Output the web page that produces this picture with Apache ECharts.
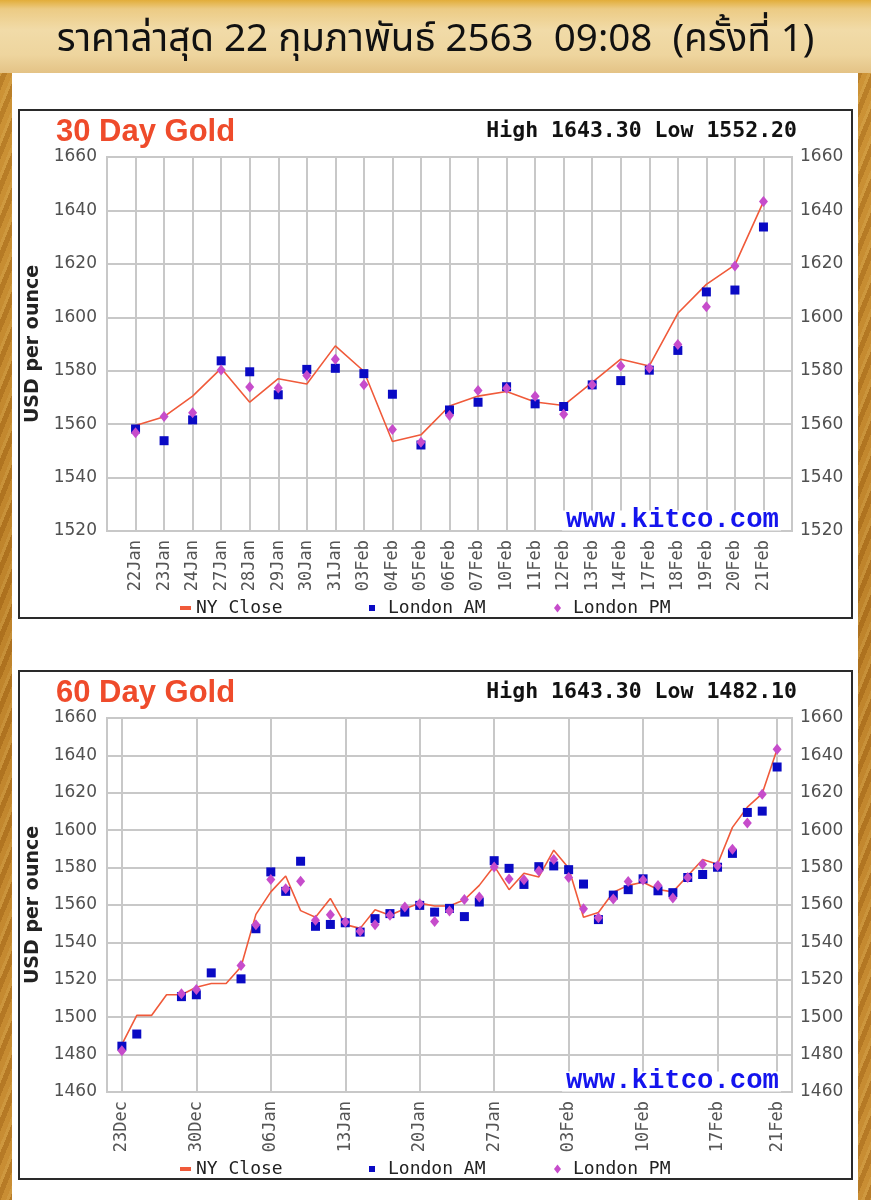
<!DOCTYPE html>
<html><head><meta charset="utf-8">
<script src="https://cdn.jsdelivr.net/npm/echarts/dist/echarts.min.js"></script>
<style>
html,body{margin:0;padding:0;}
body{width:871px;height:1200px;position:relative;overflow:hidden;
background:
 repeating-linear-gradient(112deg, rgba(255,225,140,0.20) 0 3px, rgba(110,55,5,0.14) 3px 8px, rgba(255,210,120,0.10) 8px 13px),
 linear-gradient(180deg,#c98e30,#b77a22 50%,#c3862c);}
#band{position:absolute;left:0;top:0;width:871px;height:73px;
background:linear-gradient(180deg,#e2ad3a 0px,#eccb84 9px,#f1dba8 30px,#eed59e 55px,#e4c386 73px);}
#panel{position:absolute;left:12px;top:73px;width:846px;height:1127px;background:#fff;}
#chart{position:absolute;left:0;top:0;width:871px;height:1200px;}
</style></head>
<body><div id="band"></div><div id="panel"></div><div id="chart"></div>
<script>
// ---------------- data ----------------
const pageTitle = 'ราคาล่าสุด 22 กุมภาพันธ์ 2563  09:08  (ครั้งที่ 1)';
const dates60 = ['23Dec','24Dec','25Dec','26Dec','27Dec','30Dec','31Dec','01Jan','02Jan','03Jan',
 '06Jan','07Jan','08Jan','09Jan','10Jan','13Jan','14Jan','15Jan','16Jan','17Jan',
 '20Jan','21Jan','22Jan','23Jan','24Jan','27Jan','28Jan','29Jan','30Jan','31Jan',
 '03Feb','04Feb','05Feb','06Feb','07Feb','10Feb','11Feb','12Feb','13Feb','14Feb',
 '17Feb','18Feb','19Feb','20Feb','21Feb'];
const nyClose60 = [1485.5,1501,1501,1512,1512,1516,1518,1518,1527,1555,
 1567,1575.5,1557,1553.5,1563.5,1549.5,1547.5,1557.5,1554.5,1558,
 1561,1559.5,1559.5,1562.8,1570.5,1580.9,1568.2,1577,1575,1589.3,
 1579.8,1553.5,1556,1566.8,1570.5,1572.2,1568.3,1567,1575.6,1584.3,
 1581.8,1601.5,1612.3,1619.6,1643.3];
const londonAM60 = [1484.5,1491,null,null,1511,1512,1523.7,null,1520.5,1547.3,
 1577.7,1567.3,1583.4,1548.6,1549.6,1550.5,1545.5,1552.7,1555.4,1556.2,
 1559.8,1556.2,1558.2,1553.8,1561.6,1583.7,1579.6,1571,1580.5,1580.9,
 1578.9,1571.2,1552.2,1565.3,1568.2,1574,1567.6,1566.6,1574.7,1576.3,
 1580.2,1587.6,1609.5,1610.2,1633.8];
const londonPM60 = [1482.1,null,null,null,1512.5,1514.8,null,null,1527.7,1549.5,
 1573.6,1568.7,1572.7,1551.8,1554.8,1550.9,1545.9,1549.5,1554.5,1558.9,
 1560.7,1551.2,1556.8,1562.9,1564.3,1580.3,1573.9,1573.5,1578.2,1584.3,
 1574.7,1558,1553.2,1563.2,1572.6,1573.4,1570.4,1563.7,1574.7,1581.8,
 1581,1589.8,1603.9,1619.2,1643.3];
const start30 = 22; // 30-day chart starts at 22Jan
const dateLabels60 = ['23Dec','30Dec','06Jan','13Jan','20Jan','27Jan','03Feb','10Feb','17Feb','21Feb'];
const yRange30 = [1520, 1660];
const yRange60 = [1460, 1660];
const yStep = 20;
const headline30 = ['30 Day Gold', 'High 1643.30 Low 1552.20'];
const headline60 = ['60 Day Gold', 'High 1643.30 Low 1482.10'];
const seriesNames = ['NY Close', 'London AM', 'London PM'];
const axisName = 'USD per ounce';
const watermark = 'www.kitco.com';

// ---------------- build ----------------
const C_LINE = '#f05a3a', C_AM = '#0a0ac4', C_PM = '#c64ccb', C_GRID = '#c8c8c8';
const MONO = '"DejaVu Sans Mono", monospace';
const SANS = '"DejaVu Sans", sans-serif';
const pad = a => ['-'].concat(a.map(v => v == null ? '-' : v), ['-']);

const grids = [], xAxes = [], yAxes = [], series = [], legends = [], graphics = [];

function addPanel(idx, cfg) {
  const top = cfg.top;
  const cats = [''].concat(cfg.dates, ['']);
  const shown = cfg.labels;
  const intervalFn = shown ? ((i, v) => shown.indexOf(v) >= 0) : 0;
  grids.push({left: 107, right: 79, top: top, height: 374, show: true,
    borderColor: C_GRID, borderWidth: 2, backgroundColor: 'transparent',
    containLabel: false, outerBoundsMode: 'none'});
  xAxes.push({type: 'category', gridIndex: idx, data: cats, boundaryGap: false,
    axisLine: {show: false}, axisTick: {show: false},
    axisLabel: {rotate: 90, margin: 9, fontFamily: MONO, fontSize: 17, color: '#555', interval: intervalFn},
    splitLine: {show: true, interval: intervalFn, lineStyle: {color: C_GRID, width: 2}}});
  const yBase = {type: 'value', gridIndex: idx, min: cfg.yRange[0], max: cfg.yRange[1], interval: yStep,
    axisLine: {show: false}, axisTick: {show: false}};
  const yLab = {fontFamily: SANS, fontSize: 17, color: '#505050', formatter: v => String(v)};
  yAxes.push(Object.assign({}, yBase, {position: 'left',
    axisLabel: Object.assign({margin: 10}, yLab),
    splitLine: {show: true, lineStyle: {color: C_GRID, width: 2}},
    name: axisName, nameLocation: 'middle', nameRotate: 90, nameGap: 51,
    nameTextStyle: {fontFamily: SANS, fontWeight: 'bold', fontSize: 19, color: '#222'}}));
  yAxes.push(Object.assign({}, yBase, {position: 'right',
    axisLabel: Object.assign({margin: 8}, yLab),
    splitLine: {show: false}}));
  series.push({name: seriesNames[0], type: 'line', xAxisIndex: idx, yAxisIndex: idx * 2,
    data: pad(cfg.ny), showSymbol: false, symbol: 'none', z: 2,
    lineStyle: {color: C_LINE, width: 1.6}, itemStyle: {color: C_LINE}});
  series.push({name: seriesNames[1], type: 'scatter', xAxisIndex: idx, yAxisIndex: idx * 2,
    data: pad(cfg.am), symbol: 'rect', symbolSize: 9, z: 3, itemStyle: {color: C_AM, opacity: 1}});
  series.push({name: seriesNames[2], type: 'scatter', xAxisIndex: idx, yAxisIndex: idx * 2,
    data: pad(cfg.pm), symbol: 'diamond', symbolSize: [9, 11], z: 4, itemStyle: {color: C_PM, opacity: 1}});
  const lt = top + 437;
  const legText = {fontFamily: MONO, fontSize: 18, color: '#222'};
  legends.push({data: [{name: seriesNames[0], icon: 'rect'}], left: 175, top: lt, itemWidth: 11, itemHeight: 4,
    selectedMode: false, textStyle: Object.assign({padding: [0, 0, 0, 0]}, legText)});
  legends.push({data: [{name: seriesNames[1], icon: 'rect'}], left: 364, top: lt, itemWidth: 6, itemHeight: 6,
    selectedMode: false, textStyle: Object.assign({padding: [0, 0, 0, 8]}, legText)});
  legends.push({data: [{name: seriesNames[2], icon: 'diamond'}], left: 549, top: lt, itemWidth: 7, itemHeight: 9,
    selectedMode: false, textStyle: Object.assign({padding: [0, 0, 0, 7]}, legText)});
  // frame box
  graphics.push({type: 'rect', shape: {x: 19, y: top - 47, width: 833, height: 508}, z: -1,
    style: {fill: 'transparent', stroke: '#2a2a2a', lineWidth: 2}, silent: true});
  graphics.push({type: 'text', x: 56, y: top - 25, z: 10, silent: true,
    style: {text: cfg.head[0], font: 'bold 31px "Liberation Sans", Arial, sans-serif', fill: '#ef4b2b',
      align: 'left', verticalAlign: 'middle'}});
  graphics.push({type: 'text', x: 797, y: top - 26, z: 10, silent: true,
    style: {text: cfg.head[1], font: 'bold 21.5px "DejaVu Sans Mono", monospace', fill: '#111',
      align: 'right', verticalAlign: 'middle'}});
  graphics.push({type: 'text', x: 781, y: top + 363.5, z: 10, silent: true,
    style: {text: watermark, font: 'bold 27.3px "Liberation Mono", monospace', fill: '#1414ee',
      align: 'right', verticalAlign: 'middle', lineHeight: 20, backgroundColor: '#fff', padding: [0, 2, 0, 4]}});
}

addPanel(0, {top: 157, dates: dates60.slice(start30), ny: nyClose60.slice(start30),
  am: londonAM60.slice(start30), pm: londonPM60.slice(start30), labels: null,
  yRange: yRange30, head: headline30});
addPanel(1, {top: 718, dates: dates60, ny: nyClose60, am: londonAM60, pm: londonPM60,
  labels: dateLabels60, yRange: yRange60, head: headline60});

graphics.push({type: 'text', x: 435.5, y: 43, z: 10, silent: true,
  style: {text: pageTitle, font: '38.6px "Noto Sans Thai", "Noto Sans", "DejaVu Sans", sans-serif', fill: '#111',
    align: 'center', verticalAlign: 'middle'}});

const chart = echarts.init(document.getElementById('chart'));
chart.setOption({
  animation: false,
  backgroundColor: 'transparent',
  grid: grids, xAxis: xAxes, yAxis: yAxes, series: series, legend: legends,
  graphic: {elements: graphics}
});
</script>
</body></html>
